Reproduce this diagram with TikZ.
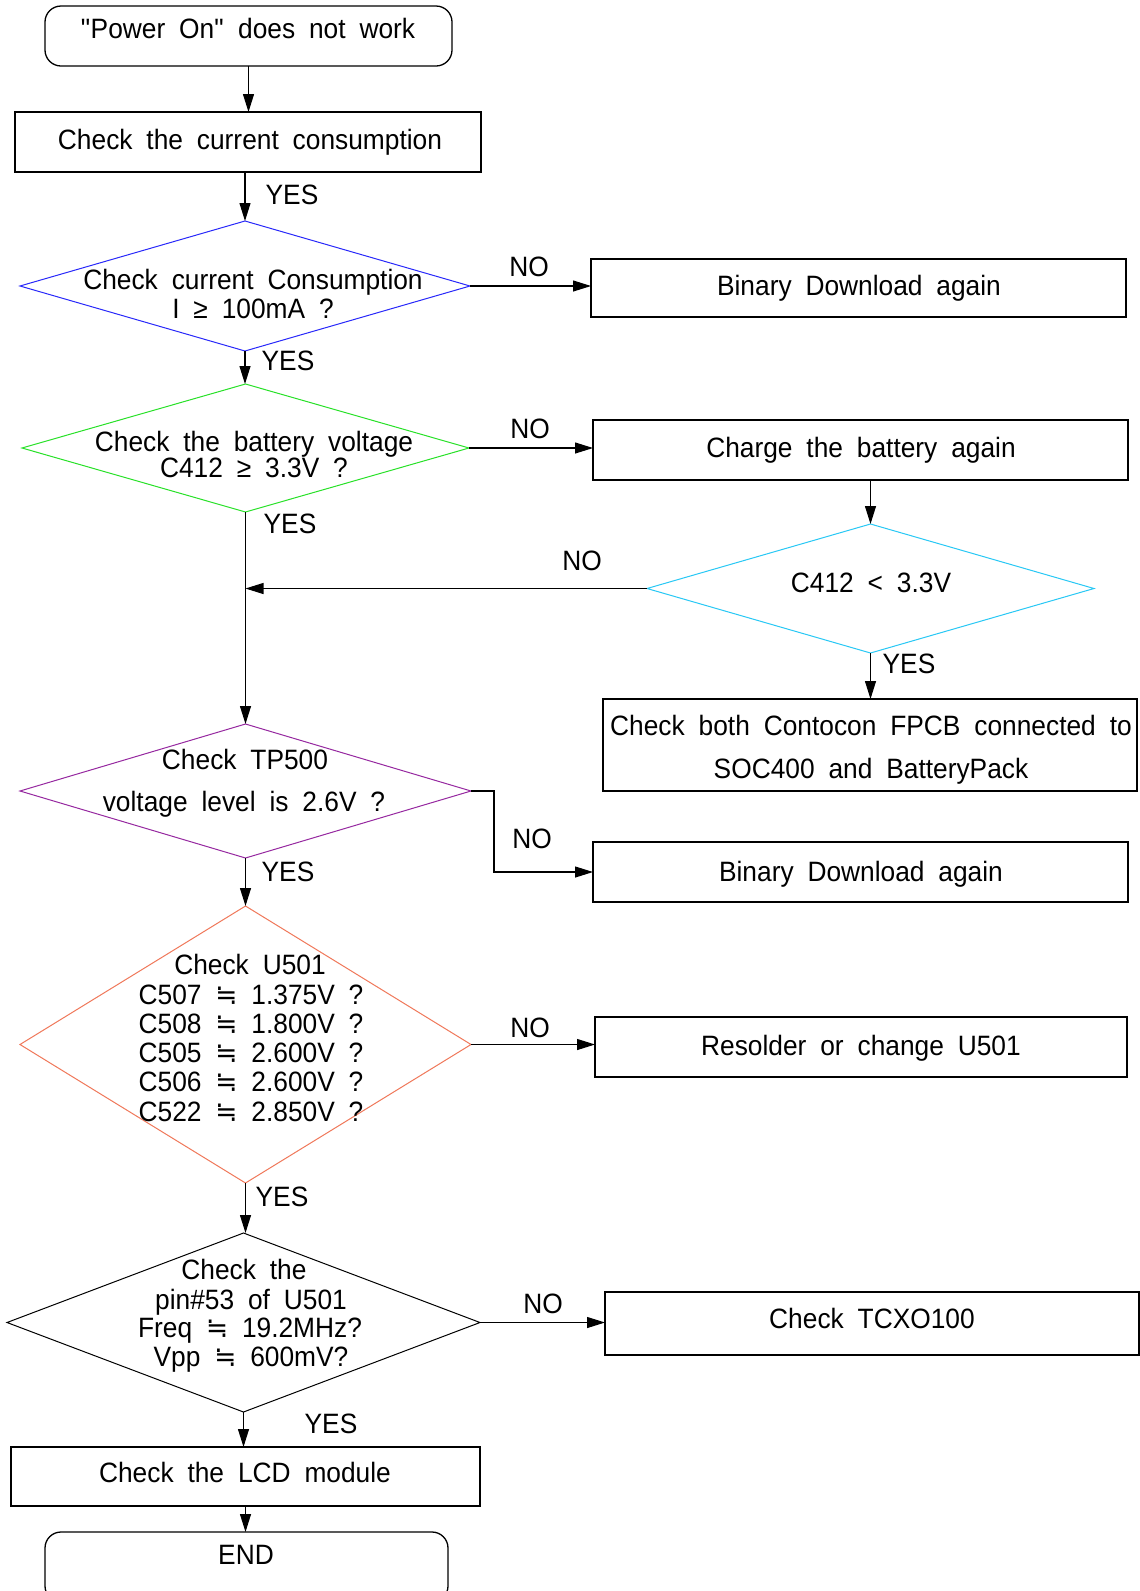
\documentclass[tikz,border=0pt]{standalone}
\usepackage{fontspec}
\setmainfont{Liberation Sans}[FakeStretch=0.94,WordSpace=1.9]
\newfontfamily\symfont{DejaVu Sans}[FakeStretch=0.94]
\usetikzlibrary{arrows.meta,shapes.geometric}
\newcommand{\apx}{{\symfont ≒}}
\definecolor{cblue}{RGB}{40,40,250}
\definecolor{cgreen}{RGB}{40,225,40}
\definecolor{ccyan}{RGB}{40,200,245}
\definecolor{cpurple}{RGB}{150,40,160}
\definecolor{csalmon}{RGB}{240,120,90}
\begin{document}
\begin{tikzpicture}[x=1pt,y=-1pt,
  font=\fontsize{28}{34}\selectfont,
  box/.style={draw, rectangle, line width=1.3pt, inner sep=0pt, outer sep=0pt},
  term/.style={box, rounded corners=16pt},
  dia/.style={draw, diamond, line width=1pt, inner sep=0pt, outer sep=0pt},
  txt/.style={inner sep=0pt, text height=20pt, text depth=0pt},
  arr/.style={-{Triangle[length=18pt,width=11pt]}, line width=1.1pt}]
\useasboundingbox (0,0) rectangle (1140,1591);
\clip (0,0) rectangle (1140,1591);
\fill[white] (0,0) rectangle (1140,1591);

% shapes
\node[term, minimum width=407pt, minimum height=60pt] (start) at (248.5,36) {};
\node[box, minimum width=466pt, minimum height=60pt] (curr) at (248,142) {};
\node[dia, draw=cblue, minimum width=450pt, minimum height=130pt] (d1) at (245,286) {};
\node[box, minimum width=535pt, minimum height=58pt] (bin1) at (858.5,288) {};
\node[dia, draw=cgreen, minimum width=447pt, minimum height=128pt] (d2) at (245.5,448) {};
\node[box, minimum width=535pt, minimum height=60pt] (chg) at (860.5,450) {};
\node[dia, draw=ccyan, minimum width=447pt, minimum height=129pt] (d3) at (870.5,588.5) {};
\node[box, minimum width=534pt, minimum height=92pt] (chk) at (870,745) {};
\node[dia, draw=cpurple, minimum width=451pt, minimum height=134pt] (d4) at (245.5,791) {};
\node[box, minimum width=535pt, minimum height=60pt] (bin2) at (860.5,872) {};
\node[dia, draw=csalmon, minimum width=451pt, minimum height=277pt] (d5) at (245.5,1044.5) {};
\node[box, minimum width=532pt, minimum height=60pt] (res) at (861,1047) {};
\node[dia, draw=black, minimum width=473pt, minimum height=179pt] (d6) at (243.5,1322.5) {};
\node[box, minimum width=534pt, minimum height=63pt] (tcxo) at (872,1323.5) {};
\node[box, minimum width=469pt, minimum height=59pt] (lcd) at (245.5,1476.5) {};
\node[term, minimum width=403pt, minimum height=70pt] (endb) at (246.5,1567) {};

% texts
\node[txt] (t0) at (248,28) {\textquotedbl Power On\textquotedbl{} does not work};
\node[txt] (t1) at (250,139) {Check the current consumption};
\node[txt] (t2a) at (253,279) {Check current Consumption};
\node[txt] (t2b) at (253,308) {I ≥ 100mA ?};
\node[txt] (t3) at (859,285) {Binary Download again};
\node[txt] (t4a) at (254,441) {Check the battery voltage};
\node[txt] (t4b) at (254,467) {C412 ≥ 3.3V ?};
\node[txt] (t5) at (861,447) {Charge the battery again};
\node[txt] (t6) at (871,582) {C412 < 3.3V};
\node[txt] (t7a) at (871,725) {Check both Contocon FPCB connected to};
\node[txt] (t7b) at (871,768) {SOC400 and BatteryPack};
\node[txt] (t8a) at (245,759) {Check TP500};
\node[txt] (t8b) at (244,801) {voltage level is 2.6V ?};
\node[txt] (t9) at (861,871) {Binary Download again};
\node[txt] (t10a) at (250,964) {Check U501};
\node[txt] (t10b) at (251,994) {C507 \apx{} 1.375V ?};
\node[txt] (t10c) at (251,1023) {C508 \apx{} 1.800V ?};
\node[txt] (t10d) at (251,1052) {C505 \apx{} 2.600V ?};
\node[txt] (t10e) at (251,1081) {C506 \apx{} 2.600V ?};
\node[txt] (t10f) at (251,1111) {C522 \apx{} 2.850V ?};
\node[txt] (t11) at (861,1045) {Resolder or change U501};
\node[txt] (t12a) at (244,1269) {Check the};
\node[txt] (t12b) at (251,1299) {pin\#53 of U501};
\node[txt] (t12c) at (250,1327) {Freq \apx{} 19.2MHz?};
\node[txt] (t12d) at (251,1356) {Vpp \apx{} 600mV?};
\node[txt] (t13) at (872,1318) {Check TCXO100};
\node[txt] (t14) at (245,1472) {Check the LCD module};
\node[txt] (t15) at (246,1554) {END};

% labels
\node[txt] (y1) at (292,194) {YES};
\node[txt] (n1) at (529,266) {NO};
\node[txt] (y2) at (288,360) {YES};
\node[txt] (n2) at (530,428) {NO};
\node[txt] (y3) at (290,523) {YES};
\node[txt] (n3) at (582,560) {NO};
\node[txt] (y4) at (909,663) {YES};
\node[txt] (n4) at (532,838) {NO};
\node[txt] (y5) at (288,871) {YES};
\node[txt] (n5) at (530,1027) {NO};
\node[txt] (y6) at (282,1196) {YES};
\node[txt] (n6) at (543,1303) {NO};
\node[txt] (y7) at (331,1423) {YES};

% connectors
\draw[arr] (start.south) -- (start.south |- curr.north);
\draw[arr] (d1.north |- curr.south) -- (d1.north);
\draw[arr] (d1.east) -- (d1.east -| bin1.west);
\draw[arr] (d1.south) -- (d1.south |- d2.north);
\draw[arr] (d2.east) -- (d2.east -| chg.west);
\draw[arr] (d3.north |- chg.south) -- (d3.north);
\draw[arr] (d3.west) -- (d3.west -| d2.south);
\draw[arr] (d3.south) -- (d3.south |- chk.north);
\draw[arr] (d2.south) -- (d2.south |- d4.north);
\draw[arr] (d4.east) -- ++(23,0) |- (bin2.west);
\draw[arr] (d4.south) -- (d4.south |- d5.north);
\draw[arr] (d5.east) -- (d5.east -| res.west);
\draw[arr] (d5.south) -- (d5.south |- d6.north);
\draw[arr] (d6.east) -- (d6.east -| tcxo.west);
\draw[arr] (d6.south) -- (d6.south |- lcd.north);
\draw[arr] (lcd.south) -- (lcd.south |- endb.north);
\end{tikzpicture}
\end{document}
